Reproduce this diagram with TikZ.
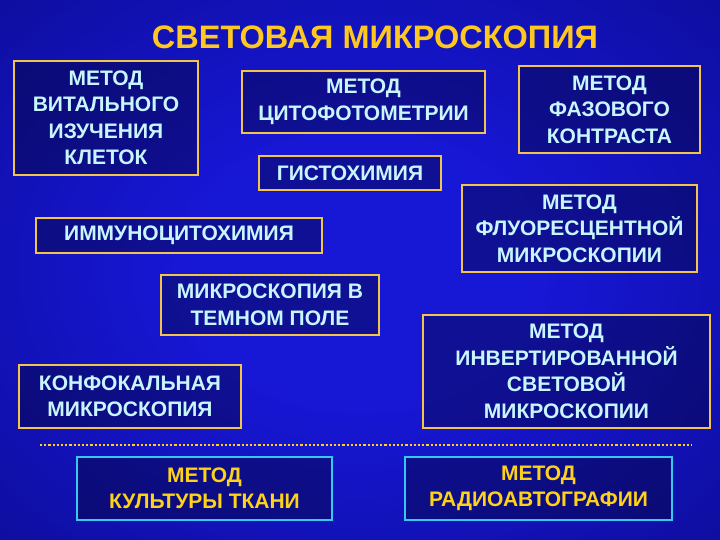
\documentclass[tikz,border=0pt]{standalone}
\usepackage{fontspec}
\setmainfont{Liberation Sans}
\usepackage{xcolor}
\usepackage{tikz}
\usetikzlibrary{positioning}
\definecolor{slbgmid}{HTML}{1717D6}
\definecolor{slbgedge}{HTML}{00004C}
\definecolor{slgold}{HTML}{F2C44A}
\definecolor{sltitle}{HTML}{FFC820}
\definecolor{slcyan}{HTML}{35C8F2}
\definecolor{sltext}{HTML}{C8F6FF}
\definecolor{slyellow}{HTML}{FFD21A}
\pgfdeclareradialshading{slglow}{\pgfpoint{0bp}{0bp}}{%
  color(0bp)=(slbgmid); color(12bp)=(slbgmid); color(72bp)=(slbgedge)}

\begin{document}
\begin{tikzpicture}[
    x=1pt, y=-1pt,
    method/.style={draw=slgold, line width=1.8pt, fill=black, fill opacity=0.3,
        text opacity=1, text=sltext, align=center, inner sep=0pt,
        font=\fontsize{21}{26.5}\selectfont\bfseries},
    extra/.style={method, draw=slcyan, text=slyellow},
    heading/.style={font=\fontsize{32.5}{38}\selectfont\bfseries, text=sltitle},
    sep/.style={draw=slyellow, line width=2.2pt, dash pattern=on 2.2pt off 2pt},
]

% ===== Background =====
\shade[shading=slglow] (0,0) rectangle (720,540);
\useasboundingbox (0,0) rectangle (720,540);

% ===== Title =====
\node[heading] (title) at (375, 37) {СВЕТОВАЯ МИКРОСКОПИЯ};

% ===== Light microscopy methods =====
\node[method, minimum width=184pt, minimum height=114pt] (vital) at (106, 118)
  {МЕТОД\\ВИТАЛЬНОГО\\ИЗУЧЕНИЯ\\КЛЕТОК};
\node[method, minimum width=243pt, minimum height=62pt] (cyto) at (363.5, 102)
  {МЕТОД\\ЦИТОФОТОМЕТРИИ};
\node[method, minimum width=181pt, minimum height=87pt] (phase) at (609.5, 109.5)
  {МЕТОД\\ФАЗОВОГО\\КОНТРАСТА};
\node[method, minimum width=182pt, minimum height=34pt] (histo) at (350, 173)
  {ГИСТОХИМИЯ};
\node[method, minimum width=235pt, minimum height=87pt] (fluor) at (579.5, 228.5)
  {МЕТОД\\ФЛУОРЕСЦЕНТНОЙ\\МИКРОСКОПИИ};
\node[method, minimum width=286pt, minimum height=35pt] (immuno) at (179, 235.5)
  {ИММУНОЦИТОХИМИЯ};
\node[method, minimum width=218pt, minimum height=60pt] (dark) at (270, 305)
  {МИКРОСКОПИЯ В\\ТЕМНОМ ПОЛЕ};
\node[method, minimum width=287pt, minimum height=113pt] (invert) at (566.5, 371.5)
  {МЕТОД\\ИНВЕРТИРОВАННОЙ\\СВЕТОВОЙ\\МИКРОСКОПИИ};
\node[method, minimum width=222pt, minimum height=63pt] (confocal) at (130, 396.5)
  {КОНФОКАЛЬНАЯ\\МИКРОСКОПИЯ};

% ===== Separator =====
\coordinate (sepL) at (40, 445);
\coordinate (sepR) at (692, 445);
\draw[sep] (sepL) -- (sepR);

% ===== Other methods =====
\node[extra, minimum width=255pt, minimum height=63pt] (culture) at (204.5, 488.5)
  {МЕТОД\\КУЛЬТУРЫ ТКАНИ};
\node[extra, minimum width=267pt, minimum height=63pt] (radio) at (538.5, 488.5)
  {МЕТОД\\РАДИОАВТОГРАФИИ};

\end{tikzpicture}
\end{document}
